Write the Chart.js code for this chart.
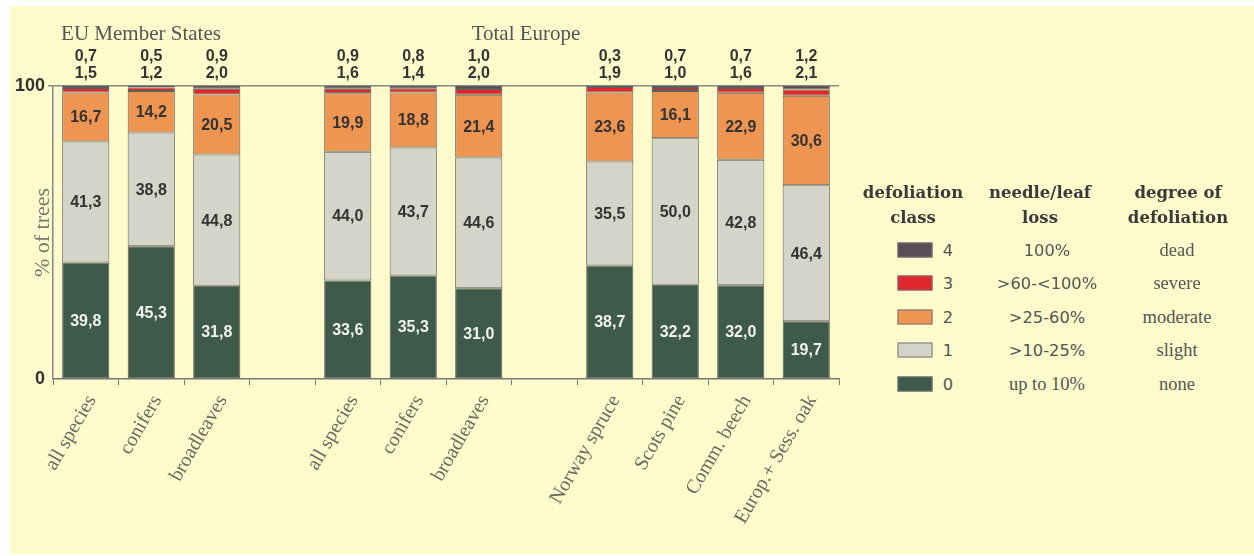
<!DOCTYPE html>
<html>
<head>
<meta charset="utf-8">
<script src="https://cdn.jsdelivr.net/npm/chart.js@4"></script>
<style>
  html, body { margin: 0; padding: 0; background: #ffffff; }
  #page { position: relative; width: 1254px; height: 556px; overflow: hidden; background: #ffffff; }
  #paper { position: absolute; left: 10px; top: 6px; width: 1244px; height: 548px; background: #fdfbcb; }
  #chartBox { position: absolute; left: 0; top: 0; width: 870px; height: 556px; }
  .grp { position: absolute; font-family: "Liberation Serif", serif; font-size: 21px; color: #555; white-space: nowrap; transform: translateX(-50%); }
  .lg { position: absolute; white-space: nowrap; transform: translate(-50%, -50%); color: #555; }
  .hd { font-family: "DejaVu Serif", serif; font-weight: bold; font-size: 16.5px; color: #3a3a3a; text-align: center; line-height: 25px; }
  .sans { font-family: "DejaVu Sans", sans-serif; font-size: 16.3px; color: #555; }
  .serif { font-family: "Liberation Serif", serif; font-size: 18.5px; color: #555; }
  .sw { position: absolute; width: 35px; height: 15px; border: 1px solid #777; box-sizing: border-box; transform: translate(-50%, -50%); }
</style>
</head>
<body>
<div id="page">
  <div id="paper"></div>
  <div id="chartBox"><canvas id="c" width="870" height="556"></canvas></div>
</div>
<script>
// ---------- data ----------
const categories = ["all species", "conifers", "broadleaves", "", "all species", "conifers", "broadleaves", "", "Norway spruce", "Scots pine", "Comm. beech", "Europ.+ Sess. oak"];
const class0 = [39.8, 45.3, 31.8, null, 33.6, 35.3, 31.0, null, 38.7, 32.2, 32.0, 19.7];
const class1 = [41.3, 38.8, 44.8, null, 44.0, 43.7, 44.6, null, 35.5, 50.0, 42.8, 46.4];
const class2 = [16.7, 14.2, 20.5, null, 19.9, 18.8, 21.4, null, 23.6, 16.1, 22.9, 30.6];
const class3 = [1.5, 1.2, 2.0, null, 1.6, 1.4, 2.0, null, 1.9, 1.0, 1.6, 2.1];
const class4 = [0.7, 0.5, 0.9, null, 0.9, 0.8, 1.0, null, 0.3, 0.7, 0.7, 1.2];
const yTicks = [0, 100];
const groupTitles = ["EU Member States", "Total Europe"];
const legendClasses = ["4", "3", "2", "1", "0"];
const legendLoss = ["100%", ">60-<100%", ">25-60%", ">10-25%", "up to 10%"];
const legendDegree = ["dead", "severe", "moderate", "slight", "none"];

const colors = ["#3e5a4b", "#d5d4c9", "#ef9552", "#e0272b", "#5a4d57"];
const seriesData = [class0, class1, class2, class3, class4];

const fmt = v => v.toFixed(1).replace(".", ",");

// ---------- plugins ----------
const valueLabels = {
  id: "valueLabels",
  afterDatasetsDraw(chart) {
    const ctx = chart.ctx;
    const top = chart.chartArea.top;
    ctx.save();
    ctx.font = "bold 16px 'Liberation Sans', Arial, sans-serif";
    ctx.textAlign = "center";
    ctx.textBaseline = "middle";
    for (let d = 0; d < 3; d++) {
      const meta = chart.getDatasetMeta(d);
      meta.data.forEach((el, i) => {
        const v = seriesData[d][i];
        if (v == null) return;
        ctx.fillStyle = d === 0 ? "#f2f2ee" : "#333333";
        ctx.fillText(fmt(v), el.x, (el.y + el.base) / 2 + 1);
      });
    }
    ctx.fillStyle = "#333333";
    const m3 = chart.getDatasetMeta(3);
    m3.data.forEach((el, i) => {
      if (class3[i] == null) return;
      ctx.fillText(fmt(class3[i]), el.x, top - 12);
      ctx.fillText(fmt(class4[i]), el.x, top - 29);
    });
    ctx.restore();
  }
};

const ctx = document.getElementById("c").getContext("2d");
new Chart(ctx, {
  type: "bar",
  data: {
    labels: categories,
    datasets: seriesData.map((arr, k) => ({
      label: "class " + k,
      data: arr,
      backgroundColor: colors[k],
      borderColor: "#5e5e5e",
      borderWidth: 1,
      borderSkipped: false,
      barPercentage: 0.72,
      categoryPercentage: 1.0
    }))
  },
  options: {
    responsive: false,
    animation: false,
    devicePixelRatio: 1,
    layout: { padding: { top: 86, right: 31, left: 0, bottom: 0 } },
    plugins: { legend: { display: false }, tooltip: { enabled: false } },
    scales: {
      x: {
        stacked: true,
        grid: { display: true, drawOnChartArea: false, drawTicks: true, tickLength: 6, color: "#777", offset: true },
        border: { display: true, color: "#777", width: 1.5 },
        ticks: {
          minRotation: 60, maxRotation: 60, autoSkip: false, padding: 6, labelOffset: 6,
          color: "#6a6a60",
          font: { family: "'Liberation Serif', serif", size: 20 }
        },
        afterFit(scale) { scale.height = 177; scale.paddingLeft = 0; scale.paddingRight = 0; }
      },
      y: {
        stacked: true,
        min: 0, max: 100,
        afterBuildTicks(scale) { scale.ticks = yTicks.map(v => ({ value: v })); },
        grid: {
          drawOnChartArea: true, drawTicks: true, tickLength: 5,
          color: ctx => ctx.tick && ctx.tick.value === 100 ? "#8a8a84" : "rgba(0,0,0,0)",
          lineWidth: 1.5
        },
        border: { display: true, color: "#888", width: 1.5 },
        ticks: {
          padding: 3,
          color: "#333",
          font: { family: "'Liberation Sans', Arial, sans-serif", size: 18, weight: "bold" }
        },
        title: {
          display: true, text: "% of trees", color: "#7a7a72",
          font: { family: "'Liberation Serif', serif", size: 22 },
          padding: { top: 30, bottom: 0 }
        },
        afterFit(scale) { scale.width = 53; scale.paddingTop = 0; scale.paddingBottom = 0; }
      }
    }
  },
  plugins: [valueLabels]
});

// ---------- HTML texts: group titles and legend ----------
const page = document.getElementById("page");
function addDiv(cls, html, x, y, extra) {
  const d = document.createElement("div");
  d.className = cls;
  d.innerHTML = html;
  d.style.left = x + "px";
  d.style.top = y + "px";
  if (extra) Object.assign(d.style, extra);
  page.appendChild(d);
  return d;
}
addDiv("grp", groupTitles[0], 141, 21);
addDiv("grp", groupTitles[1], 526, 21);

addDiv("lg hd", "defoliation<br>class", 913, 205);
addDiv("lg hd", "needle/leaf<br>loss", 1040, 205);
addDiv("lg hd", "degree of<br>defoliation", 1178, 205);
const legendColors = [colors[4], colors[3], colors[2], colors[1], colors[0]];
legendClasses.forEach((c, i) => {
  const y = 250 + i * 33.4;
  addDiv("sw", "", 915, y, { background: legendColors[i] });
  addDiv("lg sans", c, 948, y);
  addDiv(i === 4 ? "lg serif" : "lg sans", legendLoss[i], 1047, y);
  addDiv("lg serif", legendDegree[i], 1177, y);
});
</script>
</body>
</html>
